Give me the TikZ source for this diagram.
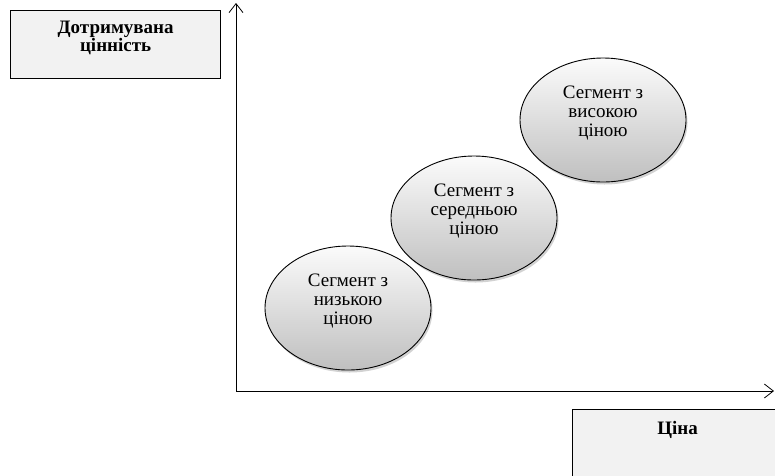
\documentclass[tikz,border=0pt]{standalone}
\usepackage{fontspec}
\setmainfont{Liberation Serif}
\newfontfamily\tnr{Liberation Serif}
\usetikzlibrary{arrows.meta,positioning,shapes.geometric,shadows}
\tikzset{
  hdbox/.style ={draw,line width=1.3pt,fill=gray!10},
  hd/.style    ={font=\tnr\fontsize{19}{15}\selectfont\bfseries,align=center,anchor=north,inner sep=0pt},
  seg/.style   ={ellipse,draw,line width=0.9pt,top color=gray!3,bottom color=gray!50,
                 minimum width=166pt,minimum height=124pt,align=center,
                 font=\tnr\fontsize{19}{19}\selectfont,
                 drop shadow={shadow xshift=1.5pt,shadow yshift=-2.5pt,fill=gray!70}},
  axis/.style  ={-{Straight Barb[length=9pt,width=14pt]},line width=0.8pt},
}
\newcommand{\segtxt}[2]{#1\\#2\\ціною\\[-1pt]\mbox{}}
\begin{document}
\begin{tikzpicture}[x=1pt,y=-1pt]
  \useasboundingbox (0,0) rectangle (775,475);
  % axes
  \coordinate (o) at (236,391);
  \coordinate (ytop) at (236,3);
  \coordinate (xend) at (774,391);
  \draw[axis] (o) -- (ytop);
  \draw[axis] (o) -- (xend);
  % segments
  \node[seg] (lo) at (348,308) {\segtxt{Сегмент з}{низькою}};
  \node[seg] (mid) at (474,218) {\segtxt{Сегмент з}{середньою}};
  \node[seg] (hi) at (603,120) {\segtxt{Сегмент з}{високою}};
  % axis captions
  \node[hdbox,minimum width=210pt,minimum height=68pt,anchor=north west] (val) at (10,10) {};
  \node[hd] (valt) at ([yshift=-11pt]val.north) {Дотримувана\\цінність};
  \node[hdbox,minimum width=210pt,minimum height=80pt,anchor=north west] (pr) at (572,409) {};
  \node[hd] (prt) at ([yshift=-12pt]pr.north) {Ціна};
\end{tikzpicture}
\end{document}
